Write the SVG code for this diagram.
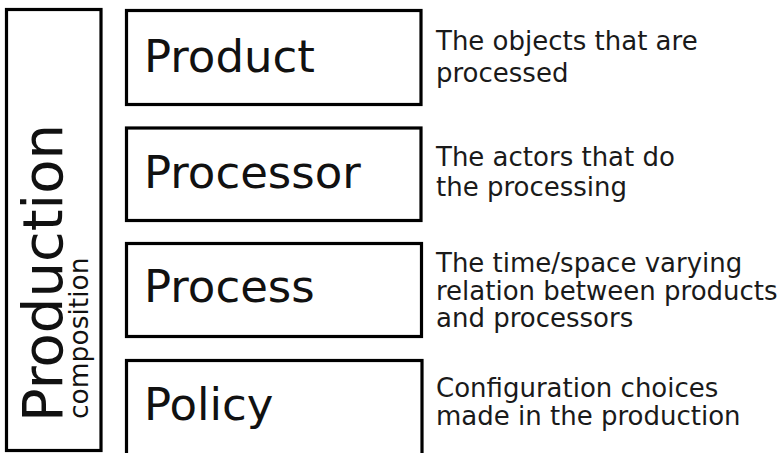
<svg xmlns="http://www.w3.org/2000/svg" width="783" height="453" viewBox="0 0 783 453">
<style>
.box{fill:#ffffff;stroke:#000000;stroke-width:3.2}
.lbl{font-family:"DejaVu Sans",sans-serif;font-size:45px;fill:#111111}
.desc{font-family:"DejaVu Sans",sans-serif;font-size:26px;fill:#1a1a1a}
</style>
<rect x="0" y="0" width="783" height="453" fill="#ffffff"/>
<g id="production">
<rect class="box" x="6.5" y="9.5" width="94.5" height="441"/>
<text font-family="DejaVu Sans, sans-serif" font-size="56" fill="#111111" transform="translate(62,422) rotate(-90)">Production</text>
<text font-family="DejaVu Sans, sans-serif" font-size="26.5" fill="#111111" transform="translate(88,419) rotate(-90)">composition</text>
</g>
<g id="product">
<rect class="box" x="126.5" y="10.5" width="294.5" height="94"/>
<text class="lbl" x="144" y="72">Product</text>
<text class="desc" x="436" y="50">The objects that are</text>
<text class="desc" x="436" y="81.5">processed</text>
</g>
<g id="processor">
<rect class="box" x="126.5" y="128" width="294.5" height="92.5"/>
<text class="lbl" x="144" y="188">Processor</text>
<text class="desc" x="436" y="166">The actors that do</text>
<text class="desc" x="436" y="195.5">the processing</text>
</g>
<g id="process">
<rect class="box" x="126.5" y="243.5" width="295" height="93"/>
<text class="lbl" x="144" y="302">Process</text>
<text class="desc" x="436" y="272">The time/space varying</text>
<text class="desc" x="436" y="299.5">relation between products</text>
<text class="desc" x="436" y="326.5">and processors</text>
</g>
<g id="policy">
<rect class="box" x="126.5" y="360.5" width="295.5" height="100"/>
<text class="lbl" x="144" y="420">Policy</text>
<text class="desc" x="436" y="396.5">Configuration choices</text>
<text class="desc" x="436" y="424.5">made in the production</text>
</g>
<g id="connectors"/>
</svg>
